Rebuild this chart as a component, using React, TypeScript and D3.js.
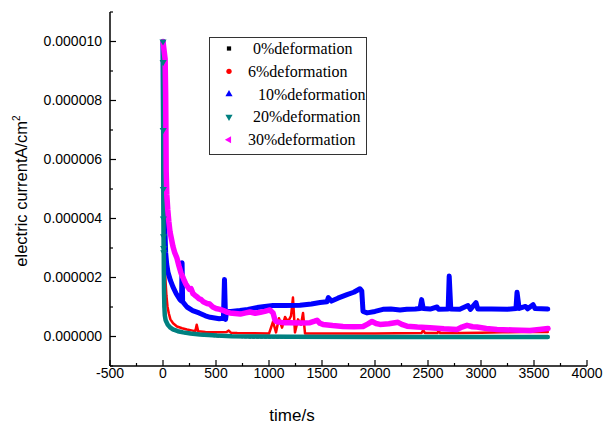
import React from "react";
import * as d3 from "d3";

const W = 606;
const H = 427;

// Values in units of 1e-6 A/cm², time in s
const seriesNames = ["0%deformation", "6%deformation", "10%deformation", "20%deformation", "30%deformation"];
const seriesColors = ["#000000", "#ff0000", "#0000ff", "#008080", "#ff00ff"];

const def0: [number, number][] = [
  [0, 10], [0, 9], [0, 8], [0, 7], [0, 6], [0, 5], [0, 4], [0, 3], [1, 2.2], [3, 1.5], [8, 1.0], [15, 0.7],
  [30, 0.45], [60, 0.3], [100, 0.2], [190, 0.12], [350, 0.05], [520, 0.0], [820, -0.03], [1500, -0.03],
  [2500, -0.03], [3630, -0.03],
];

const def6: [number, number][] = [
  [0, 10], [3, 8], [7, 6], [11, 4.5], [16, 3.2], [22, 2.0], [32, 1.4], [42, 1.02], [55, 0.78], [70, 0.58],
  [95, 0.45], [132, 0.34], [180, 0.28], [226, 0.24], [280, 0.2], [305, 0.18], [318, 0.4], [332, 0.18],
  [400, 0.15], [500, 0.14], [600, 0.15], [620, 0.2], [640, 0.13], [700, 0.12], [850, 0.11], [1000, 0.1],
  [1038, 0.5], [1066, 0.14], [1094, 0.62], [1123, 0.3], [1151, 0.66], [1179, 0.5], [1208, 0.7], [1226, 1.32],
  [1245, 0.14], [1274, 0.58], [1302, 0.4], [1321, 0.8], [1340, 0.1], [1400, 0.1], [1600, 0.1], [1800, 0.1],
  [2000, 0.1], [2200, 0.11], [2440, 0.12], [2455, 0.22], [2470, 0.12], [2590, 0.12], [2600, 0.2], [2615, 0.12],
  [2800, 0.12], [3000, 0.13], [3200, 0.14], [3400, 0.15], [3630, 0.15],
];

const def10: [number, number][] = [
  [0, 10], [3, 8], [6, 6], [10, 4.6], [15, 3.9], [19, 3.5], [25, 2.85], [35, 2.45], [47, 2.18], [70, 1.9],
  [94, 1.68], [125, 1.45], [160, 1.25], [175, 1.2], [180, 2.5], [185, 1.18], [226, 1.0], [280, 0.88],
  [340, 0.8], [400, 0.7], [445, 0.65], [530, 0.6], [570, 0.62], [580, 1.93], [590, 0.58], [600, 0.85],
  [640, 0.85], [726, 0.88], [800, 0.92], [887, 0.98], [960, 1.02], [1038, 1.05], [1150, 1.05], [1292, 1.06],
  [1400, 1.1], [1481, 1.15], [1547, 1.18], [1560, 1.32], [1590, 1.2], [1650, 1.3], [1736, 1.42], [1800, 1.5],
  [1858, 1.62], [1875, 1.55], [1887, 0.85], [1925, 0.8], [2000, 0.85], [2075, 0.92], [2150, 0.93], [2236, 0.9],
  [2300, 0.92], [2380, 0.93], [2425, 0.95], [2440, 1.25], [2455, 0.95], [2520, 0.93], [2585, 1.0], [2600, 0.92],
  [2690, 0.93], [2700, 2.05], [2715, 0.93], [2800, 0.92], [2877, 1.05], [2900, 0.92], [2953, 1.15], [2970, 0.93],
  [3100, 0.93], [3250, 0.92], [3330, 0.95], [3340, 1.5], [3360, 0.95], [3420, 1.02], [3440, 0.94], [3491, 1.08],
  [3510, 0.95], [3630, 0.93],
];

const def20: [number, number][] = [
  [0, 10], [1, 9.3], [2, 7], [3, 5.0], [4, 4.0], [5, 3.4], [6, 3.0], [7, 2.85], [8, 2.2], [10, 1.5], [13, 1.0],
  [17, 0.72], [25, 0.55], [45, 0.4], [70, 0.3], [94, 0.24], [140, 0.18], [189, 0.14], [260, 0.1], [349, 0.07],
  [509, 0.03], [650, 0.01], [821, 0.0], [1200, -0.01], [2000, -0.02], [3000, -0.02], [3630, -0.02],
];

const def30: [number, number][] = [
  [0, 10], [20, 9.4], [25, 8.2], [28, 6.8], [30, 5.6], [36, 4.8], [45, 4.3], [55, 3.9], [66, 3.55], [80, 3.3],
  [94, 3.05], [110, 2.85], [132, 2.65], [150, 2.4], [170, 2.15], [189, 2.0], [200, 1.9], [215, 1.78], [230, 1.7],
  [250, 1.6], [265, 1.62], [283, 1.45], [300, 1.4], [320, 1.35], [340, 1.28], [360, 1.25], [380, 1.18],
  [415, 1.12], [440, 1.1], [470, 1.0], [500, 0.95], [538, 0.92], [570, 0.88], [600, 0.83], [632, 0.8],
  [680, 0.78], [730, 0.76], [780, 0.8], [821, 0.83], [870, 0.79], [920, 0.82], [960, 0.85], [1009, 0.9],
  [1038, 0.8], [1057, 0.55], [1075, 0.5], [1130, 0.47], [1198, 0.47], [1300, 0.46], [1387, 0.47], [1430, 0.52],
  [1453, 0.55], [1480, 0.45], [1509, 0.41], [1600, 0.37], [1698, 0.34], [1800, 0.33], [1887, 0.34], [1930, 0.42],
  [1972, 0.51], [2010, 0.44], [2047, 0.41], [2130, 0.43], [2217, 0.48], [2260, 0.4], [2302, 0.35], [2400, 0.32],
  [2519, 0.3], [2650, 0.26], [2774, 0.24], [2820, 0.32], [2868, 0.38], [2920, 0.33], [2962, 0.32], [3050, 0.27],
  [3151, 0.24], [3300, 0.22], [3462, 0.2], [3550, 0.24], [3632, 0.27],
];

const seriesData = [def0, def6, def10, def20, def30];

const xMajorTicks = [-500, 0, 500, 1000, 1500, 2000, 2500, 3000, 3500, 4000];
const xMinorTicks = [-250, 250, 750, 1250, 1750, 2250, 2750, 3250, 3750];
const yMajorTicks = [0, 2, 4, 6, 8, 10];
const yMinorTicks = [-1, 1, 3, 5, 7, 9, 11];

// style (not data)
const strokeWidths = [2, 2.5, 5, 4.5, 5.5];
const legendTextX = [253, 248, 258, 253, 248];

export default function App() {
  const x = d3.scaleLinear().domain([-500, 4000]).range([110, 587]);
  const y = d3.scaleLinear().domain([-1, 11]).range([366, 12]);
  const line = d3
    .line<[number, number]>()
    .x((d) => x(d[0]))
    .y((d) => y(d[1]));

  const symTypes = [d3.symbolSquare, d3.symbolCircle, d3.symbolTriangle, d3.symbolTriangle, d3.symbolTriangle];
  const symRot = [0, 0, 0, 180, -90];
  const sym = (i: number) => d3.symbol().type(symTypes[i]).size(i === 0 ? 18 : 22)() as string;

  const axisFont = "'Liberation Sans', Arial, sans-serif";
  const serif = "'Liberation Serif', 'Times New Roman', serif";

  return (
    <svg width={W} height={H} style={{ position: "absolute", left: 0, top: 0, background: "#fff" }}>
      <rect x={0} y={0} width={W} height={H} fill="#fff" />
      {/* series */}
      {seriesData.map((d, i) => (
        <path
          key={i}
          d={line(d) as string}
          fill="none"
          stroke={seriesColors[i]}
          strokeWidth={strokeWidths[i]}
          strokeLinejoin="round"
          strokeLinecap="round"
          strokeDasharray={i === 0 ? "2 2" : undefined}
        />
      ))}
      {/* initial markers of 20% series */}
      {def20
        .filter((d) => d[0] <= 7)
        .map((d, j) => (
          <path
            key={"m" + j}
            d={sym(3)}
            transform={`translate(${x(d[0])},${y(d[1])}) rotate(180)`}
            fill={seriesColors[3]}
          />
        ))}
      {/* axes */}
      <line x1={110} x2={110} y1={y(11)} y2={y(-1)} stroke="#000" strokeWidth={1.5} />
      <line x1={110} x2={x(4000)} y1={366} y2={366} stroke="#000" strokeWidth={1.5} />
      {yMajorTicks.map((t) => (
        <g key={"ym" + t}>
          <line x1={110} x2={116} y1={y(t)} y2={y(t)} stroke="#000" strokeWidth={1.2} />
          <text
            x={102}
            y={y(t)}
            dy="0.35em"
            textAnchor="end"
            fontFamily={axisFont}
            fontSize={14}
            fill="#000"
          >
            {(t * 1e-6).toFixed(6)}
          </text>
        </g>
      ))}
      {yMinorTicks.map((t) => (
        <line key={"yn" + t} x1={110} x2={113} y1={y(t)} y2={y(t)} stroke="#000" strokeWidth={1.2} />
      ))}
      {xMajorTicks.map((t) => (
        <g key={"xm" + t}>
          <line x1={x(t)} x2={x(t)} y1={366} y2={360} stroke="#000" strokeWidth={1.2} />
          <text x={x(t)} y={378} textAnchor="middle" fontFamily={axisFont} fontSize={14} fill="#000">
            {t}
          </text>
        </g>
      ))}
      {xMinorTicks.map((t) => (
        <line key={"xn" + t} x1={x(t)} x2={x(t)} y1={366} y2={363} stroke="#000" strokeWidth={1.2} />
      ))}
      {/* axis titles */}
      <text x={292} y={421} textAnchor="middle" fontFamily={axisFont} fontSize={17} fill="#000">
        time/s
      </text>
      <text
        transform="translate(27,191) rotate(-90)"
        textAnchor="middle"
        fontFamily={axisFont}
        fontSize={16.5}
        fill="#000"
      >
        <tspan>electric currentA/cm</tspan>
        <tspan dy={-7} fontSize={10}>
          2
        </tspan>
      </text>
      {/* legend */}
      <rect x={209.5} y={37.5} width={157} height={117} fill="#fff" stroke="#333" strokeWidth={1} />
      {seriesNames.map((n, i) => {
        const base = 54 + i * 22.8;
        return (
          <g key={"lg" + i}>
            <path
              d={sym(i)}
              transform={`translate(229,${base - 5.5}) rotate(${symRot[i]})`}
              fill={seriesColors[i]}
            />
            <text x={legendTextX[i]} y={base} fontFamily={serif} fontSize={16} fill="#000">
              {n}
            </text>
          </g>
        );
      })}
    </svg>
  );
}
